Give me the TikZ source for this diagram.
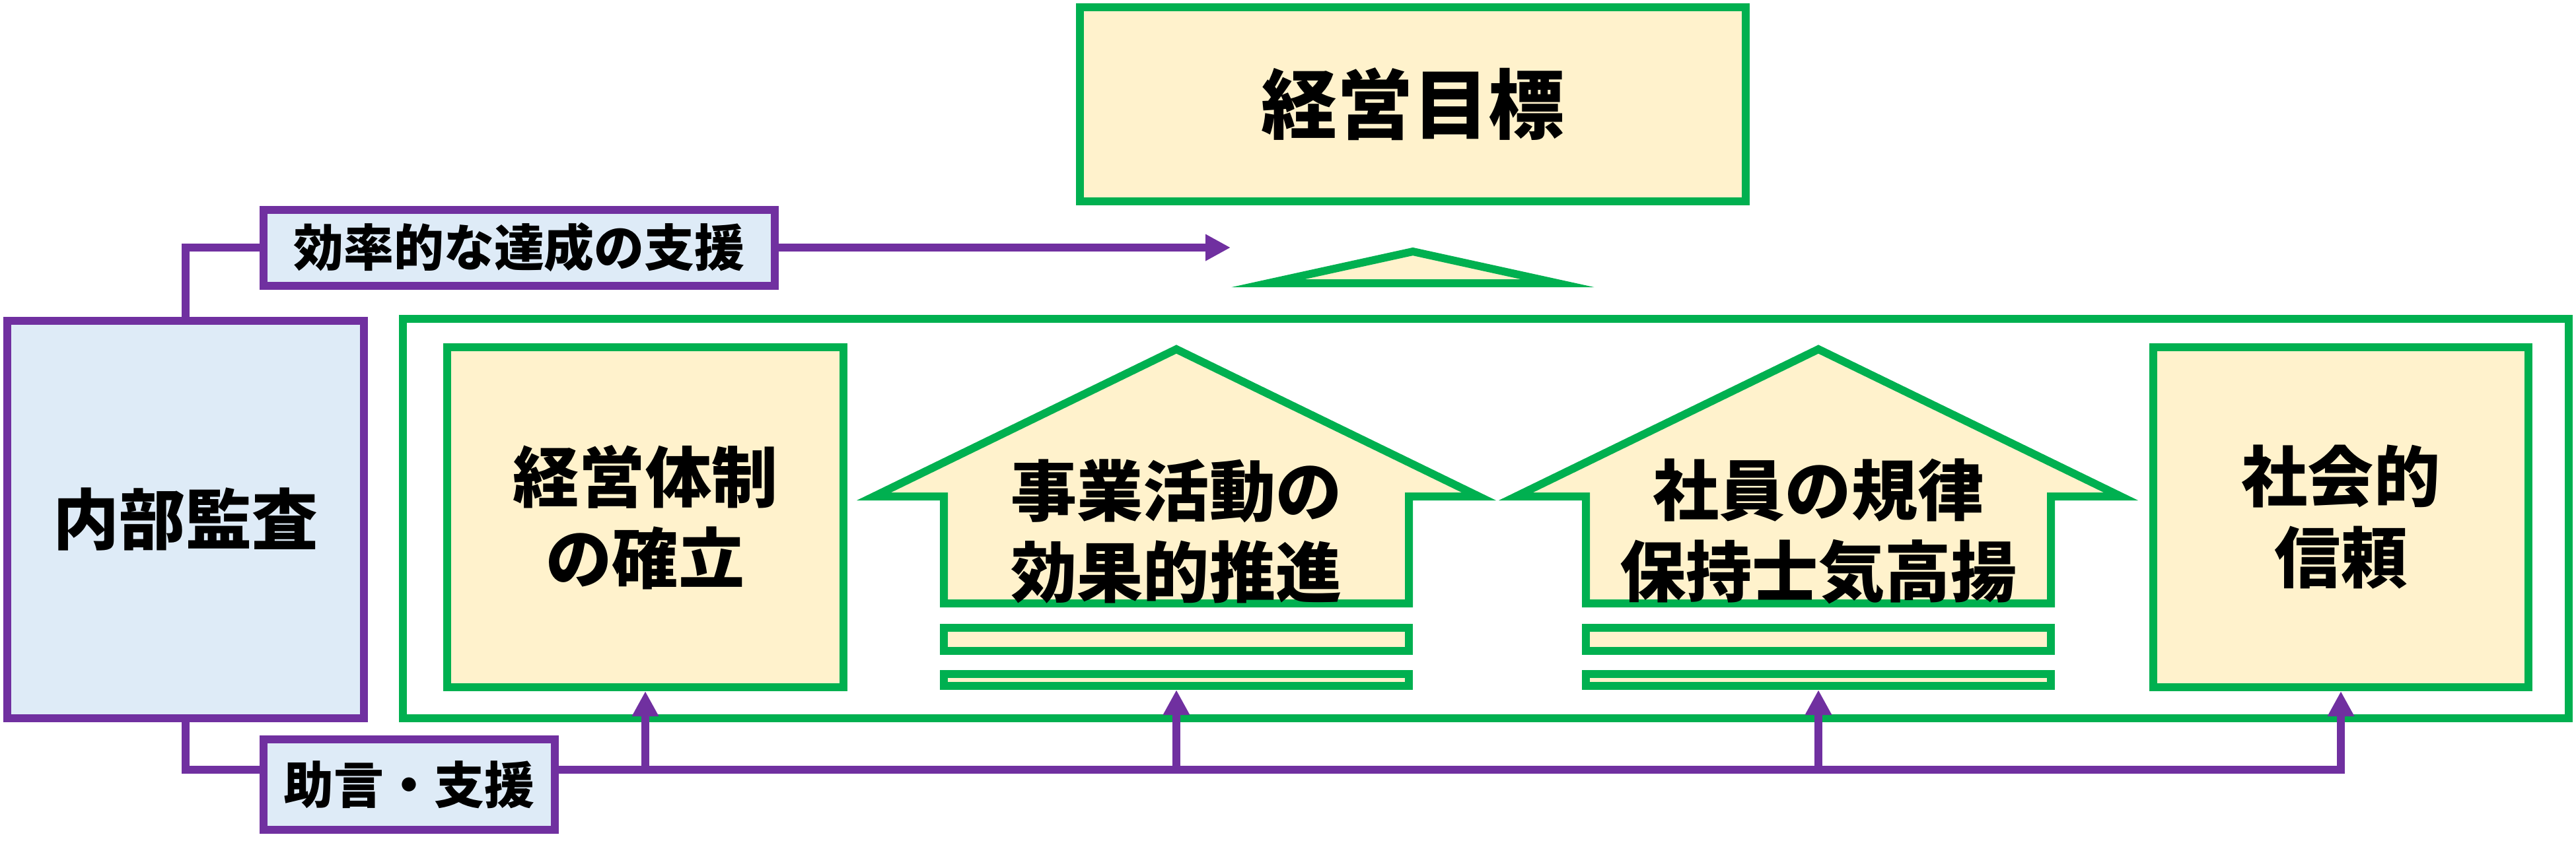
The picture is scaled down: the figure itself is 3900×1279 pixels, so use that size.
\documentclass[tikz,border=0pt]{standalone}
\usepackage{fontspec}
\setmainfont{Noto Sans CJK JP}
\usetikzlibrary{arrows.meta,calc}

\definecolor{kgreen}{RGB}{0,176,80}
\definecolor{kpurple}{RGB}{112,48,160}
\definecolor{kyellow}{RGB}{255,242,204}
\definecolor{kblue}{RGB}{222,235,247}

\begin{document}
\begin{tikzpicture}[
    x=0.1mm, y=-0.1mm,
    line width=1.2mm,
    gbox/.style={draw=kgreen, fill=kyellow, inner sep=0pt, align=center},
    pbox/.style={draw=kpurple, fill=kblue, inner sep=0pt, align=center},
    big/.style={font=\bfseries\fontsize{28.5}{35}\selectfont},
    small/.style={font=\bfseries\fontsize{21.6}{26}\selectfont},
    conn/.style={draw=kpurple, line width=1.2mm},
    tip/.style={-{Triangle[length=3.8mm, width=3.8mm]}}
]
\useasboundingbox (0,0) rectangle (3900,1279);

% Goal on top
\node [gbox, minimum width=100.8mm, minimum height=29.4mm,
       font=\bfseries\fontsize{32.7}{38}\selectfont] (goal) at (2139,158) {経営目標};
\draw [draw=kgreen, fill=kyellow] (2139,381) -- (2358,429) -- (1920,429) -- cycle;

% Internal audit
\node [pbox, big, minimum width=54mm, minimum height=60.2mm] (audit) at (281,787) {内部監査};

% Labels on the purple lines
\node [pbox, small, minimum width=77.4mm, minimum height=11.5mm] (eff) at (786,375) {効率的な達成の支援};
\node [pbox, small, minimum width=44.1mm, minimum height=13.7mm] (adv) at (619.5,1188.5) {助言・支援};

% Outer green frame
\draw [draw=kgreen] (610,483) rectangle (3889,1088);

% Side boxes
\node [gbox, big, minimum width=60mm, minimum height=51.5mm] (org) at (977,783.5) {経営体制\\の確立};
\node [gbox, big, minimum width=56.8mm, minimum height=51.5mm] (trust) at (3544,783.5) {社会的\\信頼};

% Up-arrow houses with their bars
\foreach \cx/\nm/\txt in {1781/biz/{事業活動の\\効果的推進}, 2753/staff/{社員の規律\\保持士気高揚}} {
  \draw [draw=kgreen, fill=kyellow] (\cx,529) -- ({\cx+458},752) -- ({\cx+352},752)
        -- ({\cx+352},914) -- ({\cx-352},914) -- ({\cx-352},752) -- ({\cx-458},752) -- cycle;
  \node [align=center, big] (\nm) at (\cx,805) {\txt};
  \node [gbox, minimum width=70.4mm, minimum height=3.5mm] (\nm-bar1) at (\cx,968.5) {};
  \node [gbox, minimum width=70.4mm, minimum height=1.8mm] (\nm-bar2) at (\cx,1030) {};
}

% Purple connectors
\coordinate (bus) at (0,1166);
\coordinate (goaltip) at (1863,375);
\draw [conn] (audit.north) |- (eff.west);
\draw [conn, tip] (eff.east) -- (goaltip);
\draw [conn] (audit.south) |- (adv.west |- bus);
\draw [conn, tip] (adv.east |- bus) -| (trust.south);
\foreach \t in {org, biz-bar2, staff-bar2}
  \draw [conn, tip] (\t.south |- bus) -- (\t.south);

\end{tikzpicture}
\end{document}
